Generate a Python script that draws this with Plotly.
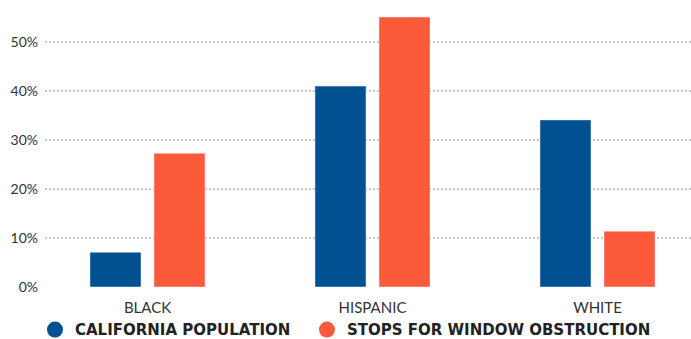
import plotly.graph_objects as go

# Share of each group: state population vs. window-obstruction stops (%)
groups = ["BLACK", "HISPANIC", "WHITE"]
population = [7.1, 41.0, 34.1]
window_stops = [27.3, 55.1, 11.4]
series_names = ["CALIFORNIA POPULATION", "STOPS FOR WINDOW OBSTRUCTION"]
y_ticks = [0, 10, 20, 30, 40, 50]
y_tick_labels = ["0%", "10%", "20%", "30%", "40%", "50%"]

BLUE = "#005192"
ORANGE = "#FC5A3B"

fig = go.Figure()
fig.add_trace(go.Bar(x=groups, y=population, marker_color=BLUE,
                     showlegend=False, hoverinfo="skip"))
fig.add_trace(go.Bar(x=groups, y=window_stops, marker_color=ORANGE,
                     showlegend=False, hoverinfo="skip"))

# circular legend keys, one legend box per series
for name, color, lg in zip(series_names, [BLUE, ORANGE], ["legend", "legend2"]):
    fig.add_trace(go.Scatter(x=[None], y=[None], mode="markers", name=name,
                             legend=lg,
                             marker=dict(symbol="circle", size=16, color=color)))

legend_font = dict(family="DejaVu Sans", size=15, color="#222222", weight="bold")

fig.update_layout(
    width=691, height=339,
    margin=dict(l=45, r=0, t=5, b=52, autoexpand=False),
    paper_bgcolor="white", plot_bgcolor="white",
    barmode="group", bargap=0.431, bargroupgap=0.203,
    font=dict(family="Lato", color="#333333", size=13),
    legend=dict(orientation="h", x=-0.0155, xanchor="left", y=-0.152, yanchor="middle",
                font=legend_font, itemwidth=30),
    legend2=dict(orientation="h", x=0.4055, xanchor="left", y=-0.152, yanchor="middle",
                 font=legend_font, itemwidth=30),
    xaxis=dict(range=[-0.4556, 2.4156], showgrid=False, zeroline=False,
               showline=False, ticks="", ticklabelstandoff=10,
               tickfont=dict(size=15, color="#333333")),
    yaxis=dict(range=[0, 57.55], tickvals=y_ticks, ticktext=y_tick_labels,
               showgrid=True, gridcolor="#C4C4C4", gridwidth=2, griddash="2px,2px",
               zeroline=False, showline=False, ticks="",
               ticklabelstandoff=6, tickfont=dict(size=14, color="#333333")),
)

fig.write_html("out.html")
